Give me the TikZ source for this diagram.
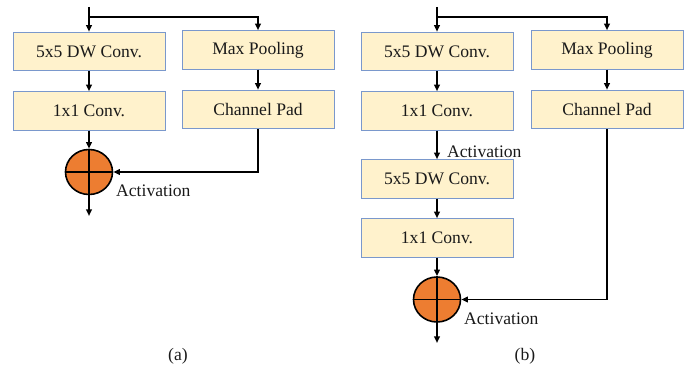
\documentclass[tikz,border=0pt]{standalone}
\usepackage{fontspec}
\setmainfont{Liberation Serif}
\usetikzlibrary{arrows.meta,shapes.geometric}
\definecolor{boxfill}{HTML}{FFF2CC}
\definecolor{boxline}{HTML}{7A98CC}
\definecolor{sumfill}{HTML}{ED7D31}
\definecolor{txt}{HTML}{1A1A1A}
\begin{document}
\begin{tikzpicture}[x=1pt,y=-1pt,
  every node/.style={font=\fontsize{17.6}{20}\selectfont,text=txt},
  blk/.style={draw=boxline,line width=1pt,fill=boxfill,minimum width=152pt,minimum height=38.5pt,inner sep=0pt},
  sumnode/.style={ellipse,draw=black,line width=1.6pt,fill=sumfill,minimum width=47pt,minimum height=45pt,inner sep=0pt},
  conn/.style={line width=1.7pt,-{Triangle[length=6.5pt,width=5.5pt]}},
  lbl/.style={inner sep=0pt,anchor=west}]
\useasboundingbox (0,0) rectangle (686,371);
% ---------- panel (a) ----------
\coordinate (ain) at (89,7);
\coordinate (abr) at (89,17);
\node[blk] (a1) at (89,51.5) {5x5 DW Conv.};
\node[blk] (a2) at (89,111) {1x1 Conv.};
\node[blk] (ap) at (258,50) {Max Pooling};
\node[blk] (ac) at (258,109.5) {Channel Pad};
\node[sumnode] (ao) at (89,172) {};
\draw[line width=1.6pt] (ao.north) -- (ao.south) (ao.west) -- (ao.east);
\coordinate (aout) at (89,216);
\node[lbl] (aact) at (116,191) {Activation};
\node (alab) at (178,356) {(a)};
\draw[conn] (ain) -- (a1.north);
\draw[conn] (abr) -| (ap.north);
\draw[conn] (a1.south) -- (a2.north);
\draw[conn] (ap.south) -- (ac.north);
\draw[conn] (a2.south) -- (ao.north);
\draw[conn] (ac.south) |- (ao.east);
\draw[conn] (ao.south) -- (aout);
% ---------- panel (b) ----------
\coordinate (bin) at (437,7);
\coordinate (bbr) at (437,17);
\node[blk] (b1) at (437,51.5) {5x5 DW Conv.};
\node[blk] (b2) at (437,111) {1x1 Conv.};
\node[blk] (b3) at (437,179) {5x5 DW Conv.};
\node[blk] (b4) at (437,238) {1x1 Conv.};
\node[blk] (bp) at (607,50) {Max Pooling};
\node[blk] (bc) at (607,109.5) {Channel Pad};
\node[sumnode] (bo) at (437,299.5) {};
\draw[line width=1.6pt] (bo.north) -- (bo.south) (bo.west) -- (bo.east);
\coordinate (bout) at (437,343);
\node[lbl] (bact1) at (447,152) {Activation};
\node[lbl] (bact2) at (464,319) {Activation};
\node (blab) at (525,356) {(b)};
\draw[conn] (bin) -- (b1.north);
\draw[conn] (bbr) -| (bp.north);
\draw[conn] (b1.south) -- (b2.north);
\draw[conn] (b2.south) -- (b3.north);
\draw[conn] (b3.south) -- (b4.north);
\draw[conn] (bp.south) -- (bc.north);
\draw[conn] (b4.south) -- (bo.north);
\draw[conn] (bc.south) |- (bo.east);
\draw[conn] (bo.south) -- (bout);
\end{tikzpicture}
\end{document}
